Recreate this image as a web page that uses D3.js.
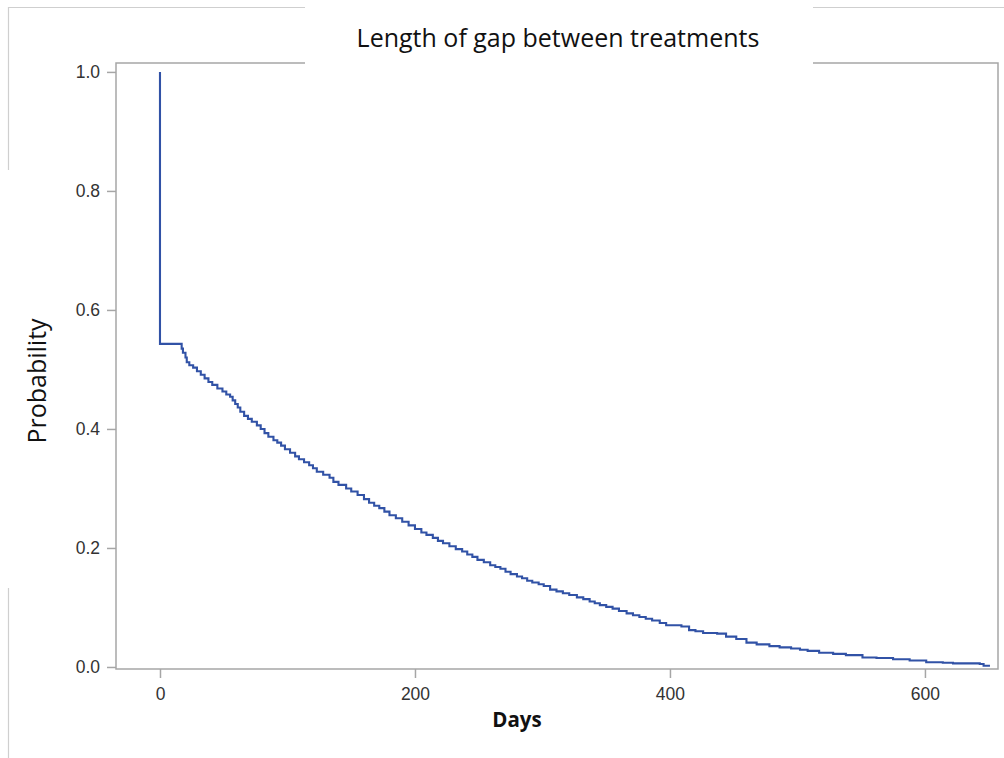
<!DOCTYPE html>
<html>
<head>
<meta charset="utf-8">
<script src="https://cdn.jsdelivr.net/npm/d3@7/dist/d3.min.js"></script>
<style>
  html, body { margin: 0; padding: 0; background: #fff; }
  svg { display: block; }
</style>
</head>
<body>
<svg id="chart" width="1004" height="758"></svg>
<script>
// Kaplan-Meier style estimate: probability that the gap between treatments lasts beyond a given day
const days = [0, 0, 17, 18, 20, 21, 23, 26, 29, 32, 35, 38, 41, 45, 49, 52, 55, 57, 59, 61, 63, 66, 69, 72, 76, 79,
  82, 85, 89, 92, 95, 98, 102, 106, 109, 113, 117, 120, 123, 128, 133, 136, 140, 146, 150, 155, 160, 164, 168,
  172, 176, 180, 185, 190, 195, 200, 205, 209, 214, 218, 222, 227, 232, 237, 241, 245, 249, 254, 259, 263, 267,
  271, 275, 280, 284, 288, 292, 297, 301, 306, 311, 316, 321, 327, 332, 337, 341, 345, 350, 355, 360, 366, 371,
  376, 381, 386, 392, 397, 409, 415, 420, 426, 437, 444, 452, 460, 468, 478, 486, 495, 502, 508, 517, 528, 538,
  551, 562, 575, 588, 601, 614, 622, 643, 646, 651];
const probability = [1.0, 0.543, 0.535, 0.528, 0.520, 0.512, 0.507, 0.503, 0.497, 0.491, 0.485, 0.479, 0.474,
  0.468, 0.463, 0.458, 0.454, 0.448, 0.442, 0.436, 0.429, 0.422, 0.417, 0.412, 0.406, 0.400, 0.393, 0.387, 0.381,
  0.377, 0.372, 0.366, 0.360, 0.354, 0.349, 0.344, 0.339, 0.334, 0.328, 0.323, 0.318, 0.311, 0.306, 0.300, 0.295,
  0.289, 0.282, 0.276, 0.271, 0.267, 0.261, 0.255, 0.250, 0.244, 0.238, 0.232, 0.226, 0.222, 0.217, 0.212, 0.208,
  0.203, 0.198, 0.194, 0.189, 0.185, 0.180, 0.176, 0.171, 0.168, 0.165, 0.160, 0.156, 0.152, 0.149, 0.145, 0.142,
  0.139, 0.136, 0.130, 0.127, 0.124, 0.121, 0.117, 0.114, 0.110, 0.107, 0.104, 0.101, 0.098, 0.094, 0.090, 0.087,
  0.084, 0.081, 0.078, 0.074, 0.070, 0.068, 0.062, 0.060, 0.057, 0.056, 0.051, 0.047, 0.041, 0.038, 0.035, 0.033,
  0.031, 0.029, 0.027, 0.024, 0.022, 0.020, 0.016, 0.015, 0.013, 0.011, 0.008, 0.007, 0.006, 0.005, 0.002, 0.002];
const xTicks = [0, 200, 400, 600];
const yTicks = [0.0, 0.2, 0.4, 0.6, 0.8, 1.0];
const titleText = "Length of gap between treatments";
const xLabel = "Days";
const yLabel = "Probability";

const svg = d3.select("#chart");
const frame = { left: 116, top: 63, right: 998, bottom: 669 };

const x = d3.scaleLinear().domain([-34.5, 657.3]).range([frame.left, frame.right]);
const y = d3.scaleLinear().domain([-0.0034, 1.015]).range([frame.bottom, frame.top]);

// outer border of the figure
svg.append("path")
  .attr("d", `M8.5,758 V7.5 H1004`)
  .attr("fill", "none")
  .attr("stroke", "#cfcfcf")
  .attr("stroke-width", 1.2);

// plot area frame
svg.append("rect")
  .attr("x", frame.left).attr("y", frame.top)
  .attr("width", frame.right - frame.left).attr("height", frame.bottom - frame.top)
  .attr("fill", "none")
  .attr("stroke", "#a6a6a6")
  .attr("stroke-width", 1.5);

// axes
const tickFont = "'Liberation Sans', Arial, sans-serif";
const yAxis = svg.append("g")
  .attr("transform", `translate(${frame.left},0)`)
  .call(d3.axisLeft(y).tickValues(yTicks).tickFormat(d3.format(".1f")).tickSize(9).tickPadding(7));
const xAxis = svg.append("g")
  .attr("transform", `translate(0,${frame.bottom})`)
  .call(d3.axisBottom(x).tickValues(xTicks).tickFormat(d3.format("d")).tickSize(9).tickPadding(10));
[yAxis, xAxis].forEach(g => {
  g.select(".domain").remove();
  g.selectAll(".tick line").attr("stroke", "#a6a6a6").attr("stroke-width", 1.5);
  g.selectAll(".tick text")
    .attr("fill", "#333")
    .style("font-family", tickFont)
    .style("font-size", "17.5px");
});

// survival curve
const pts = days.map((d, i) => [d, probability[i]]);
const line = d3.line()
  .x(d => x(d[0]))
  .y(d => y(d[1]))
  .curve(d3.curveStepAfter);
svg.append("path")
  .datum(pts)
  .attr("d", line)
  .attr("fill", "none")
  .attr("stroke", "#3152a6")
  .attr("stroke-width", 2.1)
  .attr("stroke-linejoin", "miter");

// white panels behind the title and the y-axis label
svg.append("rect").attr("x", 305).attr("y", 0).attr("width", 508).attr("height", 65).attr("fill", "#fff");
svg.append("rect").attr("x", 0).attr("y", 170).attr("width", 62).attr("height", 418).attr("fill", "#fff");

const labelFont = "'Open Sans', Lato, sans-serif";
svg.append("text")
  .attr("x", 558).attr("y", 47)
  .attr("text-anchor", "middle")
  .style("font-family", labelFont)
  .style("font-size", "25px")
  .attr("fill", "#111")
  .text(titleText);

svg.append("text")
  .attr("transform", "translate(46,381) rotate(-90)")
  .attr("text-anchor", "middle")
  .style("font-family", labelFont)
  .style("font-size", "25px")
  .attr("fill", "#111")
  .text(yLabel);

svg.append("text")
  .attr("x", 517).attr("y", 727)
  .attr("text-anchor", "middle")
  .style("font-family", "'Open Sans', sans-serif")
  .style("font-weight", "bold")
  .style("font-size", "20.5px")
  .attr("fill", "#111")
  .text(xLabel);
</script>
</body>
</html>
